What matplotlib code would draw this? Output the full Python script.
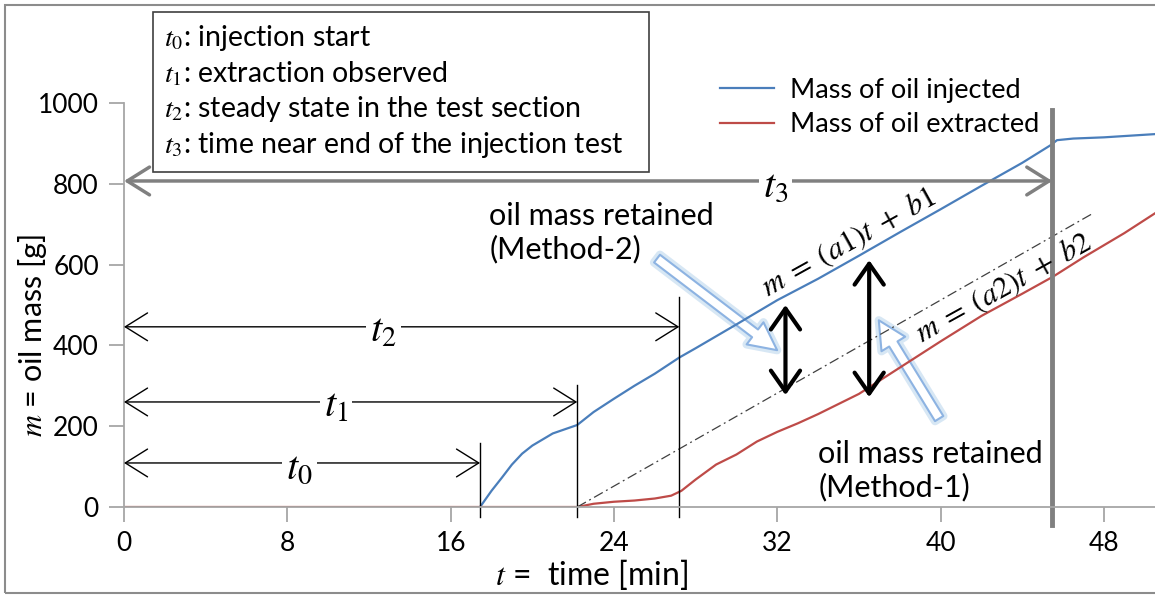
import matplotlib
matplotlib.use("Agg")
import matplotlib.pyplot as plt
from matplotlib.patches import FancyArrowPatch, Rectangle

plt.rcParams["font.family"] = ["Lato", "DejaVu Sans"]
plt.rcParams["mathtext.fontset"] = "stix"

# mass of oil injected (blue) and extracted (red)
t_inj = [17.44, 18.0, 18.5, 19.0, 19.5, 20.0, 21.0, 22.2, 23.0, 24.0, 25.0, 26.0,
         27.2, 28.0, 30.0, 32.0, 34.0, 36.0, 38.0, 40.0, 42.0, 44.0, 45.4, 45.7,
         46.5, 48.0, 50.5]
m_inj = [0, 40, 72, 105, 132, 152, 182, 203, 235, 268, 300, 330,
         370, 393, 452, 512, 565, 622, 680, 737, 795, 852, 896, 908,
         912, 915, 923]

t_ext = [0, 22.2, 23.0, 24.0, 25.0, 26.0, 26.8, 27.3, 28.0, 29.0, 30.0, 31.0,
         32.0, 33.0, 34.0, 35.0, 36.0, 38.0, 40.0, 42.0, 44.0, 45.5, 47.0,
         49.0, 50.5]
m_ext = [0, 0, 8, 13, 16, 21, 28, 40, 68, 105, 130, 162,
         186, 207, 230, 255, 280, 345, 410, 473, 528, 570, 618,
         678, 727]

# characteristic times [min]
t0, t1, t2, t3 = 17.44, 22.2, 27.2, 45.47
fit2_t = [22.2, 47.5]
fit2_m = [0, 728]

fig = plt.figure(figsize=(11.55, 5.97), dpi=100)
ax = fig.add_axes([124 / 1155, 1 - 507 / 597, (1155 - 124) / 1155, (507 - 103) / 597])

ax.plot(t_inj, m_inj, color="#4A7EBB", lw=1.6, label="Mass of oil injected")
ax.plot(t_ext, m_ext, color="#BE4B48", lw=1.6, label="Mass of oil extracted")
ax.plot(fit2_t, fit2_m, color="#404040", lw=0.9, ls=(0, (8, 3, 1.5, 3)))

ax.set_xlim(0, 50.5)
ax.set_ylim(0, 1000)
ax.set_xticks(range(0, 49, 8))
ax.set_yticks(range(0, 1001, 200))
for s in ["top", "right"]:
    ax.spines[s].set_visible(False)
for s in ["left", "bottom"]:
    ax.spines[s].set_color("#a6a6a6")
    ax.spines[s].set_linewidth(1.3)
ax.tick_params(colors="#a6a6a6", length=11, width=1.3, labelsize=19,
               labelcolor="black")
ax.tick_params(axis="x", pad=6)
ax.tick_params(axis="y", pad=7)

# vertical markers
for t, top in [(t0, 158), (t1, 302), (t2, 520)]:
    ax.plot([t, t], [-25, top], color="black", lw=1, clip_on=False)
ax.plot([t3, t3], [-45, 983], color="#808080", lw=3.5, clip_on=False)

# horizontal time spans
spans = [(t0, 109, "$t_0$", 8.6, "black", 1.0),
         (t1, 260, "$t_1$", 10.4, "black", 1.0),
         (t2, 446, "$t_2$", 12.7, "black", 1.0),
         (t3, 807, "$t_3$", 31.9, "#808080", 2.5)]
for t, y, lab, xl, col, lw in spans:
    ax.annotate("", xy=(t, y), xytext=(0, y),
                arrowprops=dict(arrowstyle="<->,head_length=0.8,head_width=0.5",
                                color=col, lw=lw, mutation_scale=20,
                                shrinkA=0, shrinkB=0))
    ax.text(xl, y - 10, lab, fontsize=29, ha="center", va="center",
            bbox=dict(fc="white", ec="none", pad=3))

# retained-mass double arrows
for t, ya, yb in [(32.4, 277, 500), (36.5, 272, 611)]:
    ax.annotate("", xy=(t, yb), xytext=(t, ya),
                arrowprops=dict(arrowstyle="<->,head_length=0.5,head_width=0.35",
                                color="black", lw=3, mutation_scale=30,
                                shrinkA=0, shrinkB=0))

# light blue callout arrows
for pa, pb in [((26.0, 619), (32.1, 384)), ((40.0, 213), (36.9, 468))]:
    for ec, lw, a in [("#bdd7ee", 6, 0.6), ("#8db3e2", 1.5, 1.0)]:
        ax.add_patch(FancyArrowPatch(
            pa, pb, arrowstyle="simple,head_length=1.0,head_width=1.0,tail_width=0.35",
            mutation_scale=20, fc="white", ec=ec, lw=lw, alpha=a))

ax.text(17.9, 680, "oil mass retained\n(Method-2)", fontsize=22,
        ha="left", va="center", linespacing=1.2)
ax.text(34.0, 89, "oil mass retained\n(Method-1)", fontsize=22,
        ha="left", va="center", linespacing=1.2)

ax.text(35.5, 654, r"$m\;=\;(a1)t\;+\;b1$", fontsize=22, rotation=29,
        ha="center", va="center", rotation_mode="anchor")
ax.text(43.1, 542, r"$m\;=\;(a2)t\;+\;b2$", fontsize=22, rotation=29,
        ha="center", va="center", rotation_mode="anchor")

ax.legend(loc="upper left", bbox_to_anchor=(706 / 1155, 1 - 64 / 597),
          bbox_transform=fig.transFigure, frameon=False, fontsize=19.5,
          handlelength=2.0, handletextpad=0.6, labelspacing=0.35, borderpad=0)

# definitions box
fig.add_artist(Rectangle((153 / 1155, 1 - 172 / 597), (649 - 153) / 1155, 160 / 597,
                         transform=fig.transFigure, fill=False, ec="#404040", lw=1.2))
box_lines = ["$t_0$: injection start", "$t_1$: extraction observed",
             "$t_2$: steady state in the test section",
             "$t_3$: time near end of the injection test"]
for i, s in enumerate(box_lines):
    fig.text(164 / 1155, 1 - (38 + 35.5 * i) / 597, s, fontsize=20.5,
             ha="left", va="center")

fig.text(592 / 1155, 1 - 575 / 597, "$t$ =  time [min]", fontsize=23,
         ha="center", va="center")
fig.text(33 / 1155, 1 - 335 / 597, "$m$ = oil mass [g]", fontsize=22,
         ha="center", va="center", rotation=90)

fig.add_artist(Rectangle((5 / 1155, 4 / 597), 1.0, 1 - 9 / 597,
                         transform=fig.transFigure, fill=False, ec="#8c8c8c", lw=1.5))

fig.savefig("out.png", dpi=100)
